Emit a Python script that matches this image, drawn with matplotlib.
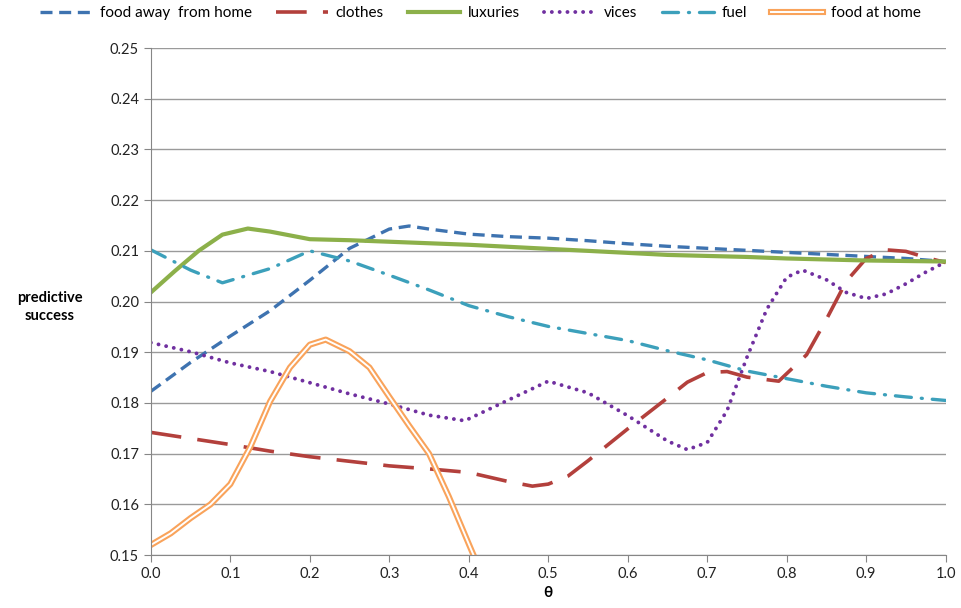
import numpy as np
import matplotlib
matplotlib.use("Agg")
import matplotlib.pyplot as plt
import matplotlib.patheffects as pe

# values
theta_20 = [0.0, 0.05, 0.1, 0.15, 0.2, 0.25, 0.3, 0.325, 0.35, 0.4, 0.45, 0.5,
            0.55, 0.6, 0.65, 0.7, 0.75, 0.8, 0.85, 0.9, 0.95, 1.0]
food_away = [0.1823, 0.1880, 0.1932, 0.1982, 0.2042, 0.2105, 0.2143, 0.2149, 0.2143,
             0.2133, 0.2128, 0.2125, 0.2120, 0.2114, 0.2109, 0.2105, 0.2101, 0.2097,
             0.2093, 0.2089, 0.2085, 0.2079]

theta_lux = [0.0, 0.03, 0.06, 0.09, 0.122, 0.15, 0.2, 0.25, 0.3, 0.35, 0.4, 0.45, 0.5,
             0.55, 0.6, 0.65, 0.7, 0.75, 0.8, 0.85, 0.9, 0.95, 1.0]
luxuries = [0.2018, 0.2060, 0.2100, 0.2132, 0.2144, 0.2138, 0.2123, 0.2121, 0.2118,
            0.2115, 0.2112, 0.2108, 0.2104, 0.2100, 0.2096, 0.2092, 0.2090, 0.2088,
            0.2085, 0.2083, 0.2081, 0.2080, 0.2079]

theta_fuel = [0.0, 0.05, 0.09, 0.15, 0.2, 0.25, 0.3, 0.35, 0.4, 0.45, 0.5, 0.55, 0.6,
              0.65, 0.7, 0.75, 0.8, 0.85, 0.9, 0.95, 1.0]
fuel = [0.2102, 0.2062, 0.2037, 0.2065, 0.2100, 0.2080, 0.2052, 0.2023, 0.1992, 0.1970,
        0.1951, 0.1937, 0.1923, 0.1903, 0.1885, 0.1863, 0.1848, 0.1833, 0.1820, 0.1812,
        0.1805]

theta_vices = [0.0, 0.05, 0.1, 0.15, 0.2, 0.25, 0.3, 0.35, 0.395, 0.45, 0.5, 0.55, 0.6,
               0.65, 0.675, 0.7, 0.725, 0.75, 0.775, 0.8, 0.82, 0.85, 0.875, 0.9, 0.925,
               0.95, 0.975, 1.0]
vices = [0.1919, 0.1901, 0.1879, 0.1862, 0.1840, 0.1818, 0.1798, 0.1776, 0.1765, 0.1806,
         0.1843, 0.1820, 0.1775, 0.1725, 0.1708, 0.1722, 0.1785, 0.1890, 0.1985, 0.2048,
         0.2062, 0.2043, 0.2018, 0.2006, 0.2015, 0.2035, 0.2058, 0.2078]

theta_clothes = [0.0, 0.05, 0.1, 0.15, 0.2, 0.25, 0.3, 0.35, 0.4, 0.45, 0.48, 0.5, 0.525,
                 0.55, 0.6, 0.65, 0.675, 0.7, 0.725, 0.75, 0.79, 0.825, 0.85, 0.875,
                 0.9, 0.925, 0.95, 0.975, 1.0]
clothes = [0.1742, 0.1730, 0.1718, 0.1705, 0.1694, 0.1685, 0.1676, 0.1670, 0.1663, 0.1645,
           0.1636, 0.1640, 0.1656, 0.1686, 0.1749, 0.1810, 0.1841, 0.1860, 0.1862, 0.1851,
           0.1843, 0.1895, 0.1965, 0.2040, 0.2085, 0.2102, 0.2099, 0.2087, 0.2077]

theta_home = [0.0, 0.025, 0.05, 0.075, 0.1, 0.125, 0.15, 0.175, 0.2, 0.22, 0.25, 0.275,
              0.3, 0.325, 0.35, 0.375, 0.4, 0.425]
food_home = [0.1520, 0.1543, 0.1573, 0.1600, 0.1640, 0.1713, 0.1803, 0.1870, 0.1915,
             0.1925, 0.1902, 0.1870, 0.1812, 0.1755, 0.1700, 0.1615, 0.1522, 0.1430]

y_ticks = np.arange(0.15, 0.2501, 0.01)
x_ticks = np.arange(0.0, 1.001, 0.1)

plt.rcParams['font.family'] = ['Lato', 'DejaVu Sans']

fig = plt.figure(figsize=(9.61, 6.08), dpi=100)
ax = fig.add_axes([0.157, 0.087, 0.827, 0.834])

ax.plot(theta_20, food_away, color='#3E73B0', lw=2.4, dashes=(3.6, 2.0),
        label='food away  from home')
ax.plot(theta_clothes, clothes, color='#B3403C', lw=2.6, dashes=(8.5, 4.5),
        label='clothes')
ax.plot(theta_lux, luxuries, color='#8CB04A', lw=3.0, label='luxuries')
ax.plot(theta_vices, vices, color='#7030A0', lw=2.8, dashes=(0.01, 2.0),
        dash_capstyle='round', label='vices')
ax.plot(theta_fuel, fuel, color='#3CA0BB', lw=2.4, dashes=(4.8, 3.0, 0.3, 3.0),
        dash_capstyle='round', label='fuel')
ax.plot(theta_home, food_home, color='white', lw=1.4, label='food at home',
        solid_joinstyle='round',
        path_effects=[pe.Stroke(linewidth=4.4, foreground='#F9A35B'), pe.Normal()])

ax.set_xlim(0, 1)
ax.set_ylim(0.15, 0.25)
ax.set_xticks(x_ticks)
ax.set_xticklabels([f"{t:.1f}" for t in x_ticks])
ax.set_yticks(y_ticks)
ax.set_yticklabels([f"{t:.2f}" for t in y_ticks])
ax.tick_params(labelsize=10.5, colors='#222222', length=5, direction='out')
ax.tick_params(axis='both', color='#868686')
ax.grid(True, axis='y', color='#9A9A9A', lw=1.0)
ax.set_axisbelow(True)
for s in ['top', 'right']:
    ax.spines[s].set_visible(False)
for s in ['left', 'bottom']:
    ax.spines[s].set_color('#868686')
ax.set_xlabel('θ', fontsize=11, fontweight='bold', labelpad=4)
fig.text(0.052, 0.495, 'predictive\nsuccess', ha='center', va='center',
         fontsize=10.5, fontweight='bold', linespacing=1.3)

fig.legend(loc='upper center', bbox_to_anchor=(0.5, 1.012), ncol=6, frameon=False,
           fontsize=11, handlelength=3.4, columnspacing=1.6, handletextpad=0.5)

fig.savefig('out.png', dpi=100)
